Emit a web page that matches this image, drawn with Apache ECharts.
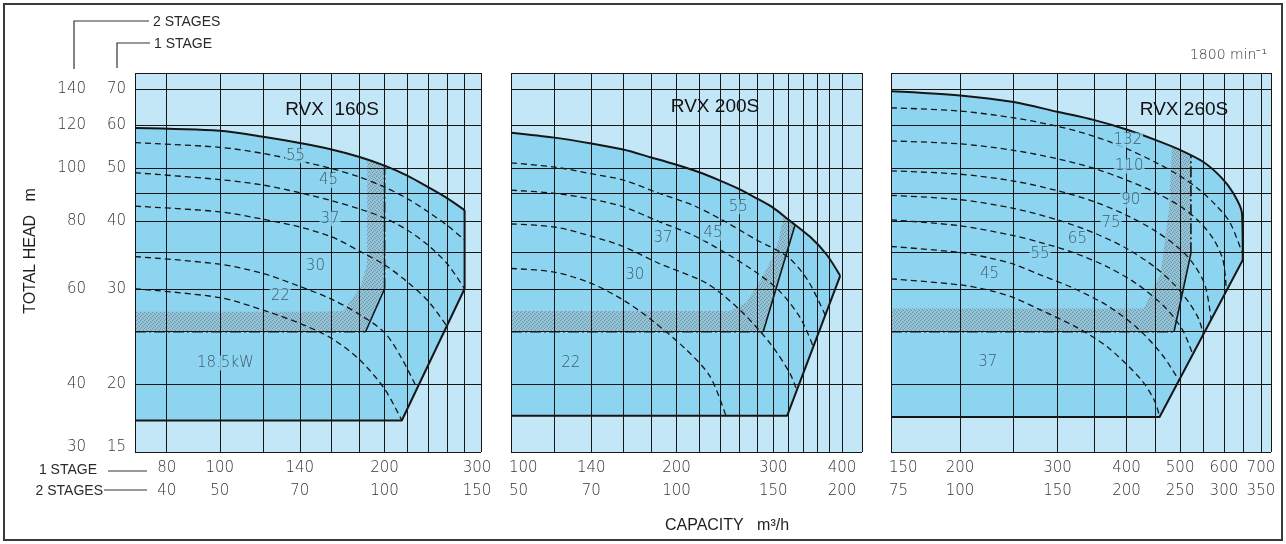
<!DOCTYPE html>
<html><head><meta charset="utf-8">
<script src="https://cdn.jsdelivr.net/npm/echarts@6/dist/echarts.min.js"></script>
<style>html,body{margin:0;padding:0;background:#fff}#c{width:1286px;height:544px}</style>
</head><body><div id="c"></div>
<script>
// ================= DATA =================
// head axis (m): 1-stage values, matching 2-stage labels
const headTicks1 = [15, 20, 30, 40, 50, 60, 70];
const headTicks2 = [30, 40, 60, 80, 100, 120, 140];
const headGridLines = [20, 25, 30, 35, 40, 45, 50, 60, 70];
const headRange = [15, 75];

// capacity axes (m3/h)
const capRange160 = [70, 300];
const capTicks1_160 = [80, 100, 140, 200, 300];
const capTicks2_160 = [40, 50, 70, 100, 150];
const capGrid160 = [80, 100, 120, 140, 160, 180, 200, 220, 240, 260, 280];

const capRange200 = [100, 435];
const capTicks1_200 = [100, 140, 200, 300, 400];
const capTicks2_200 = [50, 70, 100, 150, 200];
const capGrid200 = [120, 140, 160, 180, 200, 220, 240, 260, 280, 300, 320, 340, 360, 380, 400];

const capRange260 = [150, 730];
const capTicks1_260 = [150, 200, 300, 400, 500, 600, 700];
const capTicks2_260 = [75, 100, 150, 200, 250, 300, 350];
const capGrid260 = [200, 250, 300, 350, 400, 450, 500, 550, 600, 650, 700];

// ---- RVX 160S ----
const top160 = [[70,59.4],[100,58.7],[120,57.2],[140,55.7],[160,54.2],[180,52.5],[200,50.6],[220,48.5],[240,46.2],[260,44.1],[280,41.9]];
const edge160 = [[280,41.9],[280,30],[215,17.15],[70,17.15]];
const kw55_160 = [[70,55.8],[100,54.7],[120,53.3],[140,51.6],[160,50.0],[180,48.2],[200,46.2],[220,44.0],[240,41.6],[260,39.3],[280,36.9]];
const kw45_160 = [[70,49.1],[100,47.7],[120,46.6],[140,45.1],[160,43.6],[180,42.1],[200,40.5],[220,38.5],[240,36.1],[260,33.4],[280,30.0]];
const kw37_160 = [[70,42.6],[100,41.6],[120,40.3],[140,39.0],[160,37.4],[180,35.2],[200,33.2],[220,30.9],[240,28.5],[260,25.6]];
const kw30_160 = [[70,34.4],[100,33.3],[120,32.0],[140,30.3],[160,28.7],[180,26.9],[200,24.9],[214,22.5],[229,19.7]];
const kw22_160 = [[70,30.0],[100,28.9],[120,27.4],[140,25.9],[160,24.3],[180,22.2],[200,19.6],[215,17.15]];
const stip160 = [[70,25],[70,27.2],[150,27.2],[168,27.3],[181,30.3],[185.7,33.4],[186,51.7],[200,50.6],[200,30],[184.6,25]];
const dashdot160 = [[[70,25],[184.6,25]], [[200,30],[200,50.6]]];
const solid160 = [[184.6,25],[200,30]];
const labels160 = [['55',137.5,52.8],['45',158,47.5],['37',159,40.4],['30',149.5,33.1],['22',129,29.1],['18.5kW',102.4,21.9]];

// ---- RVX 200S ----
const top200 = [[100,58.2],[120,57.0],[140,55.6],[160,54.2],[180,52.4],[200,50.8],[220,49.2],[240,47.5],[259,45.9],[278,44.2],[300,42.3],[320,40.2],[350,37.4],[375,34.7],[397,31.7]];
const edge200 = [[397,31.7],[318,17.5],[100,17.5]];
const kw55_200 = [[100,51.2],[120,50.3],[140,48.9],[160,47.6],[186,45.0],[214,42.8],[242,40.2],[280,36.9],[318,34.4],[346,31.2],[373,26.8]];
const kw45_200 = [[100,45.6],[120,45.0],[140,43.9],[160,42.5],[186,39.9],[214,37.7],[246,34.9],[280,32.1],[308,29.7],[336,26.5],[355,23.4]];
const kw37_200 = [[100,39.5],[120,39.0],[140,37.5],[160,35.9],[186,33.4],[227,30.7],[261,27.4],[296,23.8],[322,20.9],[331,19.5]];
const kw30_200 = [[100,32.7],[120,32.2],[140,30.7],[160,28.6],[180,26.3],[208,23.2],[230,20.7],[246,17.5]];
const stip200 = [[100,25],[100,27.3],[250,27.3],[268,28.3],[284,31],[298,34],[307,37],[313,40.8],[329,39.5],[287.6,25]];
const dashdot200 = [[[100,25],[287.6,25]]];
const solid200 = [[287.6,25],[329,39.5]];
const labels200 = [['55',259,42.5],['45',233,38.0],['37',189,37.2],['30',168,31.8],['22',128.5,21.9]];

// ---- RVX 260S ----
const top260 = [[150,69.4],[200,68.2],[250,66.3],[300,63.6],[350,61.4],[400,59.0],[452,56.4],[500,54.1],[551,51.4],[595,48.0],[624,45.0],[647,41.3],[649,33.9]];
const edge260 = [[649,33.9],[459,17.4],[150,17.4]];
const kw132_260 = [[150,64.7],[200,63.8],[250,62.0],[300,59.8],[350,57.3],[400,54.4],[450,51.4],[500,48.4],[540,45.8],[580,42.8],[615,39.8],[647,35.0]];
const kw110_260 = [[150,56.2],[200,55.5],[250,54.0],[300,52.1],[350,50.0],[400,47.6],[450,45.2],[500,42.6],[540,40.0],[575,37.0],[598,33.8],[606,29.8]];
const kw90_260 = [[150,49.5],[200,48.8],[250,47.4],[300,45.5],[350,43.4],[400,41.0],[450,38.4],[500,35.5],[530,33.2],[555,30.4],[569,26.3]];
const kw75_260 = [[150,44.6],[200,43.8],[250,42.2],[300,40.2],[350,38.0],[400,35.6],[450,32.9],[490,30.4],[520,28.2],[540,26.4],[551,24.7]];
const kw65_260 = [[150,40.2],[200,39.2],[250,37.6],[280,36.5],[320,35.0],[370,32.9],[420,30.5],[470,27.7],[505,25.2],[527,22.7]];
const kw55_260 = [[150,35.9],[200,35.0],[226,34.2],[250,33.3],[280,31.8],[320,30.1],[370,27.9],[420,25.3],[465,22.6],[498,20.3]];
const kw45_260 = [[150,31.3],[200,30.5],[226,29.8],[250,28.9],[280,27.4],[322,25.6],[370,23.4],[425,20.4],[450,18.6],[459,17.4]];
const stip260 = [[150,25],[150,27.6],[430,27.6],[461,32],[478,42.5],[483,54.9],[523,52.9],[523,34.9],[505,29.5],[487.4,25]];
const dashdot260 = [[[150,25],[487.4,25]], [[523,34.9],[523,52.9]]];
const solid260 = [[487.4,25],[505,29.5],[523,34.9]];
const labels260 = [['132',402,56.4],['110',404.5,50.5],['90',407,43.7],['75',375,39.7],['65',326,37.1],['55',279,34.8],['45',226,31.9],['37',224.5,22.0]];

// ================= STYLE / LAYOUT =================
const LIGHT = '#c4e7f8', DARK = '#8dd4f1', INK = '#161616';
const numFont = {fontFamily: 'DejaVu Sans', fontWeight: 200, fontSize: 15};

// fine stipple texture
const pc = document.createElement('canvas'); pc.width = 4; pc.height = 4;
const pg = pc.getContext('2d');
pg.fillStyle = 'rgba(150,175,188,0.45)'; pg.fillRect(0, 0, 4, 4);
pg.fillStyle = 'rgba(95,110,120,0.55)';
[[0,0],[2,1],[1,3],[3,2]].forEach(d => pg.fillRect(d[0], d[1], 1, 1));
const STIPPLE = {image: pc, repeat: 'repeat'};

const panels = [
  {range: capRange160, g: {left: 135, top: 73, width: 346, height: 379}, top: top160, edge: edge160,
   curves: [kw55_160, kw45_160, kw37_160, kw30_160, kw22_160], stip: stip160, dashdot: dashdot160, solid: solid160,
   labels: labels160, vgrid: capGrid160, t1: capTicks1_160, t2: capTicks2_160, title: 'RVX  160S', titlePos: [332, 110]},
  {range: capRange200, g: {left: 511, top: 73, width: 351, height: 379}, top: top200, edge: edge200,
   curves: [kw55_200, kw45_200, kw37_200, kw30_200], stip: stip200, dashdot: dashdot200, solid: solid200,
   labels: labels200, vgrid: capGrid200, t1: capTicks1_200, t2: capTicks2_200, title: 'RVX 200S', titlePos: [715, 107]},
  {range: capRange260, g: {left: 891, top: 73, width: 380, height: 379}, top: top260, edge: edge260,
   curves: [kw132_260, kw110_260, kw90_260, kw75_260, kw65_260, kw55_260, kw45_260], stip: stip260, dashdot: dashdot260, solid: solid260,
   labels: labels260, vgrid: capGrid260, t1: capTicks1_260, t2: capTicks2_260, title: 'RVX 260S', titlePos: [1184, 110]}
];

const grids = [], xAxes = [], yAxes = [], series = [];
panels.forEach((p, i) => {
  grids.push(Object.assign({show: true, backgroundColor: LIGHT, borderWidth: 0}, p.g));
  xAxes.push({type: 'log', logBase: 10, gridIndex: i, min: p.range[0], max: p.range[1],
    axisLine: {show: false}, axisTick: {show: false}, axisLabel: {show: false}, splitLine: {show: false}});
  yAxes.push({type: 'log', logBase: 10, gridIndex: i, min: headRange[0], max: headRange[1],
    axisLine: {show: false}, axisTick: {show: false}, axisLabel: {show: false}, splitLine: {show: false}});
  const base = {xAxisIndex: i, yAxisIndex: i, silent: true, animation: false};
  const poly = (pts, fill, z) => Object.assign({type: 'custom', z, data: [pts[0]], clip: true,
    renderItem: (params, api) => ({type: 'polygon', shape: {points: pts.map(q => api.coord(q))}, style: {fill: fill}})}, base);
  const line = (pts, ls, z, smooth) => Object.assign({type: 'line', data: pts, symbol: 'none', showSymbol: false,
    smooth: smooth || false, z, lineStyle: ls}, base);
  // shaded operating range
  series.push(poly(p.top.concat(p.edge.slice(1)), DARK, 1));
  series.push(poly(p.stip, STIPPLE, 2));
  // grid lines (through axes scale)
  const ml = p.vgrid.map(v => ({xAxis: v})).concat(headGridLines.map(v => ({yAxis: v})))
    .concat([{xAxis: p.range[0]}, {xAxis: p.range[1]}, {yAxis: headRange[0]}, {yAxis: headRange[1]}]);
  series.push(Object.assign({type: 'line', data: [[p.range[0], headRange[0]]], symbol: 'none', z: 3,
    lineStyle: {opacity: 0},
    markLine: {silent: true, z: 3, symbol: 'none', animation: false, label: {show: false},
      lineStyle: {color: INK, width: 1, type: 'solid'}, emphasis: {disabled: true}, data: ml}}, base));
  // motor power (dashed) curves
  p.curves.forEach(c => series.push(line(c, {color: INK, width: 1.3, type: [6, 4]}, 4, 0.3)));
  // stage boundary
  p.dashdot.forEach(d => series.push(line(d, {color: INK, width: 1.6, type: [11, 3, 2, 3]}, 4)));
  series.push(line(p.solid, {color: INK, width: 1.6}, 4));
  // envelope
  series.push(line(p.top, {color: INK, width: 2}, 5, 0.3));
  series.push(line(p.edge, {color: INK, width: 2}, 5));
  // kW labels
  series.push(Object.assign({type: 'scatter', symbolSize: 0, z: 8,
    data: p.labels.map(l => ({value: [l[1], l[2]], name: l[0]})),
    label: {show: true, position: 'inside', formatter: q => q.name, color: '#2c3a43',
      fontFamily: 'DejaVu Sans', fontWeight: 200, fontSize: 15, backgroundColor: DARK, padding: [0, 1]}}, base));
});

const chart = echarts.init(document.getElementById('c'));
chart.setOption({animation: false, grid: grids, xAxis: xAxes, yAxis: yAxes, series: series});

// ================= TEXT & FRAME =================
const gfx = [];
const txt = (t, x, y, st) => gfx.push({type: 'text', x, y, silent: true, z: 20,
  style: Object.assign({text: t, fill: '#333', align: 'center', verticalAlign: 'middle'}, numFont, st || {})});
const poly = (pts, w) => gfx.push({type: 'polyline', silent: true, z: 20, shape: {points: pts}, style: {stroke: '#333', lineWidth: w || 1, fill: null}});

gfx.push({type: 'rect', silent: true, z: 19, shape: {x: 4, y: 4, width: 1278, height: 536}, style: {stroke: '#3a3a3a', lineWidth: 2, fill: null}});

// head labels (two columns)
headTicks1.forEach((v, k) => {
  const py = chart.convertToPixel({gridIndex: 0}, [capRange160[0], v])[1] - (v === headRange[0] ? 5 : 0);
  txt(String(headTicks2[k]), 86, py, {align: 'right'});
  txt(String(v), 126, py, {align: 'right'});
});
// capacity labels (two rows)
panels.forEach((p, i) => {
  const yb = p.g.top + p.g.height;
  p.t1.forEach((v, k) => {
    let px = chart.convertToPixel({gridIndex: i}, [v, headRange[0]])[0];
    let al = 'center';
    if (k === 0 && i > 0) { al = 'left'; px -= 2; }
    if (k === p.t1.length - 1 && i === 0) px -= 4;
    txt(String(v), px, yb + 16, {align: al});
    txt(String(p.t2[k]), px, yb + 39, {align: al});
  });
  txt(p.title, p.titlePos[0], p.titlePos[1], {fontFamily: 'Liberation Sans', fontWeight: 'normal', fontSize: 19, fill: '#111'});
});

const lab = {fontFamily: 'Liberation Sans', fontWeight: 'normal', fontSize: 14, fill: '#2a2a2a'};
txt('2 STAGES', 153, 22, Object.assign({align: 'left'}, lab));
txt('1 STAGE', 154, 44, Object.assign({align: 'left'}, lab));
poly([[74, 69], [74, 21], [149, 21]], 1.2);
poly([[117, 68], [117, 43], [150, 43]], 1.2);
txt('1 STAGE', 97, 470, Object.assign({align: 'right'}, lab));
txt('2 STAGES', 103, 491, Object.assign({align: 'right'}, lab));
poly([[108, 471], [147, 471]], 1);
poly([[104, 490], [147, 490]], 1);
txt('1800 min⁻¹', 1267, 55, {align: 'right', fontSize: 14});
txt('CAPACITY   m³/h', 727, 526, {fontFamily: 'Liberation Sans', fontWeight: 'normal', fontSize: 16, fill: '#1e1e1e'});
gfx.push({type: 'text', x: 31, y: 251, rotation: Math.PI / 2, silent: true, z: 20,
  style: {text: 'TOTAL HEAD   m', fill: '#1e1e1e', fontFamily: 'Liberation Sans', fontSize: 16, align: 'center', verticalAlign: 'middle'}});

chart.setOption({graphic: gfx});
</script>
</body></html>
